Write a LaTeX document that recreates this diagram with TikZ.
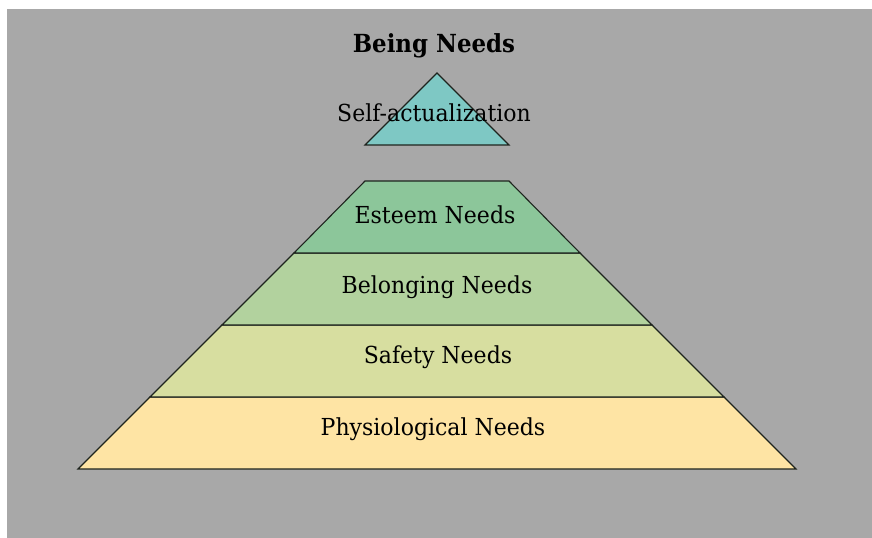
\documentclass[tikz,border=0pt]{standalone}
\usepackage{fontspec}
\newfontfamily\labfont[FakeStretch=0.94]{DejaVu Serif}
\newfontfamily\titlefont[FakeStretch=0.92]{DejaVu Serif}
\definecolor{bggray}{RGB}{168,168,168}
\definecolor{selfc}{RGB}{126,200,196}
\definecolor{esteemc}{RGB}{140,198,154}
\definecolor{belongc}{RGB}{178,210,158}
\definecolor{safetyc}{RGB}{215,222,160}
\definecolor{physc}{RGB}{254,228,164}
\definecolor{edgec}{RGB}{30,36,30}
\begin{document}
\begin{tikzpicture}[x=1bp,y=-1bp,
  layer/.style={draw=edgec,line width=1.1bp,line join=miter},
  lab/.style={anchor=base,inner sep=0pt,font=\labfont\fontsize{23.5}{25}\selectfont,text=black},
  ttl/.style={anchor=base,inner sep=0pt,font=\titlefont\bfseries\fontsize{25}{27}\selectfont,text=black}]
\useasboundingbox (0,0) rectangle (872,538);
\fill[white] (0,0) rectangle (872,538);
\fill[bggray] (7,9) rectangle (872,538);
% layers
\filldraw[layer,fill=physc]   (78,469) -- (150,397) -- (724,397) -- (796,469) -- cycle;
\filldraw[layer,fill=safetyc] (150,397) -- (222,325) -- (652,325) -- (724,397) -- cycle;
\filldraw[layer,fill=belongc] (222,325) -- (294,253) -- (580,253) -- (652,325) -- cycle;
\filldraw[layer,fill=esteemc] (294,253) -- (365,181) -- (509,181) -- (580,253) -- cycle;
\filldraw[layer,fill=selfc]   (365,145) -- (437,73) -- (509,145) -- cycle;
% labels
\node[ttl] (title) at (434,53) {Being Needs};
\node[lab] (self) at (434,122) {Self-actualization};
\node[lab] (esteem) at (435,224) {Esteem Needs};
\node[lab] (belong) at (437,294) {Belonging Needs};
\node[lab] (safety) at (438,363) {Safety Needs};
\node[lab] (phys) at (433,435) {Physiological Needs};
\end{tikzpicture}
\end{document}
